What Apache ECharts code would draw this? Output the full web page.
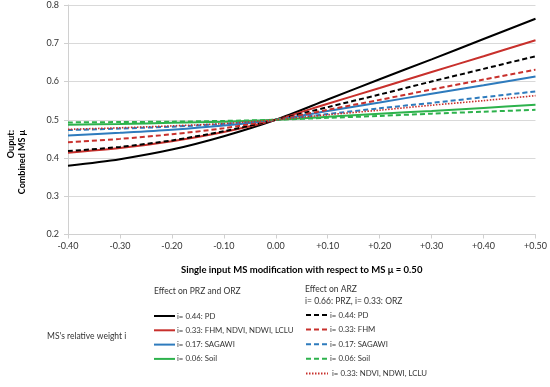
<!DOCTYPE html>
<html>
<head>
<meta charset="utf-8">
<script src="https://cdn.jsdelivr.net/npm/echarts@6/dist/echarts.min.js"></script>
<style>
html,body{margin:0;padding:0;background:#fff;}
#c{width:550px;height:387px;}
</style>
</head>
<body>
<div id="c"></div>
<script>
// ---- data ----
var xValues = [-0.4, -0.3, -0.2, -0.1, 0, 0.1, 0.2, 0.3, 0.4, 0.5];
var xTickLabels = ['-0.40','-0.30','-0.20','-0.10','0.00','+0.10','+0.20','+0.30','+0.40','+0.50'];
var yTickLabels = ['0.2','0.3','0.4','0.5','0.6','0.7','0.8'];

// Effect on PRZ and ORZ (solid)
var przPD     = [0.380, 0.397, 0.422, 0.457, 0.500, 0.553, 0.606, 0.658, 0.711, 0.764];
var przFHM    = [0.414, 0.426, 0.444, 0.468, 0.500, 0.542, 0.583, 0.625, 0.666, 0.708];
var przSAGAWI = [0.459, 0.466, 0.474, 0.485, 0.500, 0.523, 0.545, 0.568, 0.590, 0.613];
var przSoil   = [0.487, 0.489, 0.492, 0.495, 0.500, 0.508, 0.516, 0.523, 0.531, 0.539];
// Effect on ARZ (dashed / dotted)
var arzPD     = [0.418, 0.429, 0.446, 0.470, 0.500, 0.533, 0.566, 0.600, 0.633, 0.666];
var arzFHM    = [0.441, 0.450, 0.462, 0.478, 0.500, 0.526, 0.552, 0.579, 0.605, 0.631];
var arzSAGAWI = [0.473, 0.477, 0.482, 0.489, 0.500, 0.515, 0.530, 0.544, 0.559, 0.574];
var arzSoil   = [0.493, 0.494, 0.495, 0.497, 0.500, 0.505, 0.510, 0.516, 0.521, 0.526];
var arzNDVI   = [0.475, 0.479, 0.484, 0.490, 0.500, 0.513, 0.525, 0.538, 0.550, 0.563];

var seriesNames = ['i= 0.44: PD','i= 0.33: FHM, NDVI, NDWI, LCLU','i= 0.17: SAGAWI','i= 0.06: Soil',
                   'i= 0.44: PD ','i= 0.33: FHM','i= 0.17: SAGAWI ','i= 0.06: Soil ',' i= 0.33: NDVI, NDWI, LCLU'];
var seriesValues = [przPD, przFHM, przSAGAWI, przSoil, arzPD, arzFHM, arzSAGAWI, arzSoil, arzNDVI];

var BLACK='#000000', RED='#c8302c', BLUE='#2e7bbd', GREEN='#2db24c';
var colors = [BLACK, RED, BLUE, GREEN, BLACK, RED, BLUE, GREEN, RED];
var types = ['solid','solid','solid','solid',[5,3],[5,3],[5,3],[5,3],[1.5,1.5]];

var FONT = 'Lato';

function pairs(vals){ return xValues.map(function(x,i){ return [x, vals[i]]; }); }

var series = seriesValues.map(function(vals, k){
  return {
    type:'line', name: seriesNames[k], data: pairs(vals),
    smooth: 0.3, symbol:'none', showSymbol:false,
    lineStyle:{color: colors[k], width: k===8 ? 1.6 : 2, type: types[k]},
    itemStyle:{color: colors[k]},
    z: 2 + k, animation:false
  };
});

var legendCommon = {
  orient:'vertical', padding:0, itemHeight:10, itemGap:6.5,
  itemStyle:{opacity:0},
  textStyle:{fontFamily:FONT, fontSize:7.8, color:'#333', padding:[0,0,0,-3]},
  selectedMode:false
};

var chart = echarts.init(document.getElementById('c'), null, {renderer:'canvas'});
chart.setOption({
  animation:false,
  backgroundColor:'#fff',
  textStyle:{fontFamily:FONT},
  grid:{left:68, right:12, top:5, bottom:152.5, containLabel:false},
  xAxis:{
    type:'value', min:-0.4, max:0.5, interval:0.1,
    name:'Single input MS modification with respect to MS μ = 0.50',
    nameLocation:'middle', nameGap:30,
    nameTextStyle:{fontFamily:FONT, fontSize:9.5, fontWeight:'bold', color:'#000'},
    axisLine:{show:true, onZero:false, lineStyle:{color:'#d0d0d0', width:1}},
    axisTick:{show:true, length:4, lineStyle:{color:'#d0d0d0'}},
    splitLine:{show:false},
    axisLabel:{fontFamily:FONT, fontSize:9, color:'#333', margin:7,
      formatter:function(v){ return xTickLabels[Math.round((v+0.4)*10)]; }}
  },
  yAxis:{
    type:'value', min:0.2, max:0.8, interval:0.1,
    axisLine:{show:true, onZero:false, lineStyle:{color:'#d0d0d0', width:1}},
    axisTick:{show:true, length:4, lineStyle:{color:'#d0d0d0'}},
    splitLine:{show:true, lineStyle:{color:'#d9d9d9', width:1}},
    axisLabel:{fontFamily:FONT, fontSize:9, color:'#333', margin:9,
      formatter:function(v){ return yTickLabels[Math.round((v-0.2)*10)]; }}
  },
  legend:[
    Object.assign({}, legendCommon, {data: seriesNames.slice(0,4), left:153, top:312, itemWidth:21, itemGap:6.3}),
    Object.assign({}, legendCommon, {data: seriesNames.slice(4), left:305, top:311, itemWidth:22, itemGap:6.6})
  ],
  graphic:[
    {type:'text', left:154, top:287, style:{text:'Effect on PRZ and ORZ', fontFamily:FONT, fontSize:8.5, fill:'#333'}},
    {type:'text', left:305, top:283, style:{text:'Effect on ARZ\ni= 0.66: PRZ, i= 0.33: ORZ', fontFamily:FONT, fontSize:8.5, lineHeight:12, fill:'#333'}},
    {type:'text', left:47, top:332, style:{text:"MS's relative weight i", fontFamily:FONT, fontSize:8.5, fill:'#333'}},
    {type:'text', x:17, y:130, rotation:Math.PI/2,
      style:{text:'Ouput:\nCombined MS μ', fontFamily:FONT, fontSize:9, fontWeight:'bold', lineHeight:11,
             fill:'#000', align:'right', verticalAlign:'middle'}}
  ],
  series: series
});
</script>
</body>
</html>
